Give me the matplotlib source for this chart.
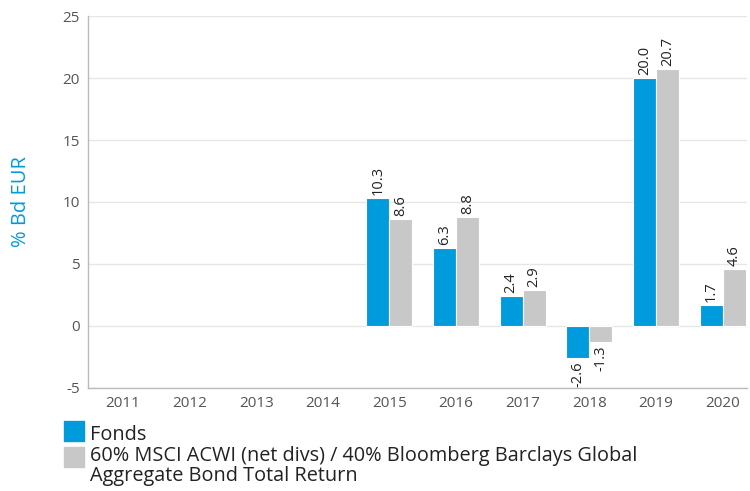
import numpy as np
import matplotlib.pyplot as plt
from matplotlib.patches import Rectangle

years = ["2011", "2012", "2013", "2014", "2015", "2016", "2017", "2018", "2019", "2020"]
fonds = [None, None, None, None, 10.3, 6.3, 2.4, -2.6, 20.0, 1.7]
bench = [None, None, None, None, 8.6, 8.8, 2.9, -1.3, 20.7, 4.6]
fonds_label = "Fonds"
bench_label = "60% MSCI ACWI (net divs) / 40% Bloomberg Barclays Global\nAggregate Bond Total Return"

plt.rcParams['font.family'] = ['Open Sans', 'DejaVu Sans']
plt.rcParams['axes.unicode_minus'] = False

blue = "#009bdc"
grey = "#c8c8c8"
txt = "#555555"

fig = plt.figure(figsize=(7.5, 4.91), dpi=100)
ax = fig.add_axes([0.1173, 0.2098, 0.879, 0.7576])

x = np.arange(len(years))
w = 0.345
for series, off, col in [(fonds, -w / 2, blue), (bench, w / 2, grey)]:
    for i, v in enumerate(series):
        if v is None:
            continue
        ax.bar(x[i] + off, v, w, color=col, edgecolor="white", linewidth=0.8, zorder=3)
        if v >= 0:
            ax.text(x[i] + off, v + 0.25, f"{v:.1f}", rotation=90, ha="center", va="bottom",
                    fontsize=10.5, color="#222222")
        else:
            ax.text(x[i] + off, v - 0.25, f"{v:.1f}", rotation=90, ha="center", va="top",
                    fontsize=10.5, color="#222222")

ax.set_xlim(-0.525, 9.37)
ax.set_ylim(-5, 25)
ax.set_yticks(range(-5, 26, 5))
ax.set_xticks(x)
ax.set_xticklabels(years)
ax.tick_params(length=0, labelsize=11, colors=txt, pad=6)
ax.grid(axis="y", color="#e6e6e6", linewidth=1, zorder=0)
for s in ["top", "right"]:
    ax.spines[s].set_visible(False)
for s in ["left", "bottom"]:
    ax.spines[s].set_color("#bbbbbb")
    ax.spines[s].set_linewidth(1)
ax.set_ylabel("% Bd EUR", color=blue, fontsize=14.5)
ax.yaxis.set_label_coords(-0.087, 0.5)

# legend drawn by hand so the grey square sits beside the first line
W, H = 750, 491
for top, col in [(421, blue), (447, grey)]:
    fig.patches.append(Rectangle((64 / W, 1 - (top + 20) / H), 20 / W, 20 / H,
                                 transform=fig.transFigure, color=col))
fig.text(90 / W, 1 - 440 / H, fonds_label, fontsize=14.3, color="#222222", va="baseline")
fig.text(90 / W, 1 - 481 / H, bench_label, fontsize=14.3, color="#222222", va="baseline",
         linespacing=1.0)

fig.savefig("out.png", dpi=100)
